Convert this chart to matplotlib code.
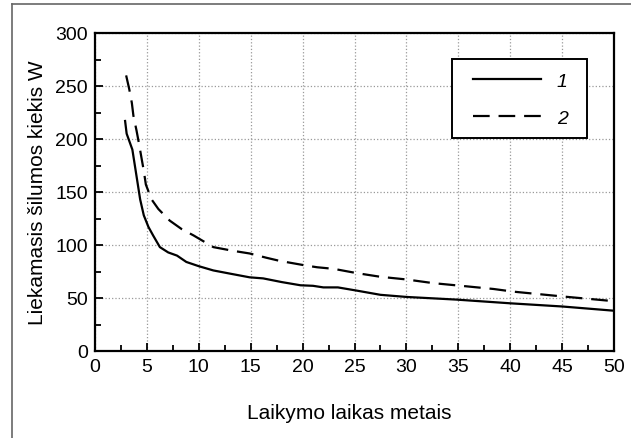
import numpy as np
import matplotlib
matplotlib.use('Agg')
import matplotlib.pyplot as plt
from matplotlib.lines import Line2D
from matplotlib.patches import Rectangle
from matplotlib.ticker import MultipleLocator

plt.rcParams['font.family'] = ['Liberation Sans', 'DejaVu Sans']

# curve 1 (solid)
x1 = [2.9, 3.05, 3.6, 4.0, 4.35, 4.7, 5.15, 5.6, 6.25, 7.05, 7.9, 8.8, 10.0,
      11.4, 13.0, 14.9, 16.2, 18.0, 19.8, 21.0, 22.0, 23.4, 25.2, 27.5, 30.0,
      34.8, 40.0, 45.0, 50.0]
y1 = [217, 205, 190, 165, 143, 128, 117, 109, 98, 93, 90, 84, 80,
      76, 73, 69.5, 68.5, 65, 62, 61.5, 60, 60, 57, 53, 51,
      48.5, 45, 42, 38]

# curve 2 (dashed)
x2 = [3.0, 3.3, 3.55, 3.7, 4.0, 4.25, 4.5, 4.7, 4.9, 5.45, 6.1, 7.2, 8.35,
      9.5, 11.4, 13.3, 14.9, 16.5, 17.8, 20.4, 21.4, 23.0, 25.2, 27.5, 30.0,
      32.6, 35.8, 38.4, 40.3, 45.0, 50.0]
y2 = [260, 247, 234, 222, 208, 195, 181, 170, 157, 143, 134, 123, 115,
      109, 98, 94.5, 92, 88, 85, 80.5, 79, 77.5, 73.5, 70, 67.5,
      64, 61, 58.5, 56, 51.5, 47]

W, H = 631, 439
fig = plt.figure(figsize=(W/100, H/100), dpi=100)
ax = fig.add_axes([95/W, 1-352/H, (614-95)/W, (352-34)/H])

ax.plot(x1, y1, color='black', lw=1.6, label='1')
ax.plot(x2, y2, color='black', lw=1.6, ls=(0, (7.5, 4)), label='2')

ax.set_xlim(0, 50)
ax.set_ylim(0, 300)
ax.xaxis.set_major_locator(MultipleLocator(5))
ax.xaxis.set_minor_locator(MultipleLocator(2.5))
ax.yaxis.set_major_locator(MultipleLocator(50))
ax.yaxis.set_minor_locator(MultipleLocator(25))
ax.tick_params(which='both', direction='in', labelsize=14, width=1.3)
ax.tick_params(which='major', length=6, pad=5)
ax.tick_params(which='minor', length=4)
ax.grid(which='major', color='#999999', ls=':', lw=0.9)
for s in ax.spines.values():
    s.set_linewidth(1.6)

ax.set_xlabel('Laikymo laikas metais', fontsize=15)
ax.xaxis.set_label_coords(0.489, -0.165)
ax.set_ylabel('Liekamasis šilumos kiekis W', fontsize=15, labelpad=6)

# legend without its own frame, box drawn separately
leg = ax.legend(loc='upper left', bbox_to_anchor=(473/W, 1-73/H),
                bbox_transform=fig.transFigure, handlelength=3.5,
                labelspacing=1.0, borderpad=0, borderaxespad=0,
                handletextpad=0.8, frameon=False,
                prop={'style': 'italic', 'size': 14})
fig.add_artist(Rectangle((452/W, 1-139/H), (587-452)/W, (139-60)/H,
                         transform=fig.transFigure, fill=True, facecolor='white',
                         edgecolor='black', lw=1.4, zorder=2))
leg.set_zorder(3)
fig.add_artist(leg)

# figure border (left and top only visible)
fig.add_artist(Line2D([12/W, 12/W], [0, 1-5/H], color='#666666', lw=1.2))
fig.add_artist(Line2D([12/W, 1], [1-5/H, 1-5/H], color='#666666', lw=1.2))

fig.savefig('out.png', dpi=100)
